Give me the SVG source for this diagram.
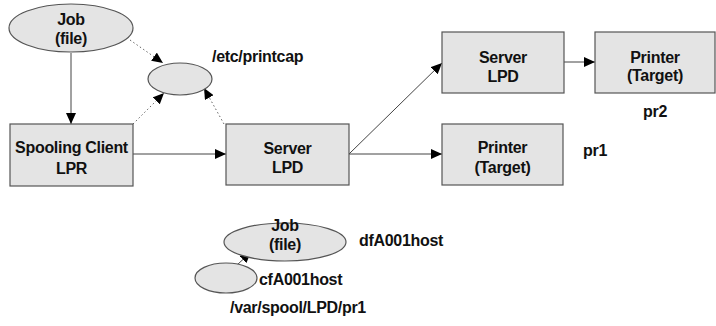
<svg xmlns="http://www.w3.org/2000/svg" width="716" height="326" viewBox="0 0 716 326">
<style>
.box{fill:#e4e4e4;stroke:#555;stroke-width:1.2}
.t{font-family:"Liberation Sans",Arial,sans-serif;font-size:16px;font-weight:bold;fill:#111;text-anchor:middle;letter-spacing:-0.3px}
.l{font-family:"Liberation Sans",Arial,sans-serif;font-size:16px;font-weight:bold;fill:#111;letter-spacing:-0.3px}
.c{fill:none;stroke:#444;stroke-width:1}
.d{fill:none;stroke:#666;stroke-width:1;stroke-dasharray:1.5 2.5}
</style>
<defs>
<marker id="a" markerUnits="userSpaceOnUse" markerWidth="12" markerHeight="10" refX="11" refY="5" orient="auto">
<path d="M0,0 L11,5 L0,10 Z" fill="#000"/>
</marker>
</defs>
<rect width="716" height="326" fill="#fff"/>
<g id="connectors">
<line class="c" x1="71" y1="53" x2="71" y2="124" marker-end="url(#a)"/>
<line class="d" x1="130" y1="40" x2="163" y2="63" marker-end="url(#a)"/>
<line class="d" x1="133" y1="124" x2="164" y2="93" marker-end="url(#a)"/>
<line class="d" x1="224" y1="124" x2="204" y2="88" marker-end="url(#a)"/>
<line class="c" x1="133" y1="154" x2="226" y2="154" marker-end="url(#a)"/>
<line class="c" x1="349" y1="154" x2="442" y2="154" marker-end="url(#a)"/>
<line class="c" x1="349" y1="154" x2="442" y2="63" marker-end="url(#a)"/>
<line class="c" x1="564" y1="62" x2="595" y2="62" marker-end="url(#a)"/>
<line class="c" x1="237" y1="265" x2="251" y2="252" marker-end="url(#a)"/>
</g>
<g id="job">
<ellipse class="box" cx="71" cy="28" rx="62" ry="24"/>
<text class="t" x="71" y="25">Job</text>
<text class="t" x="71" y="44">(file)</text>
</g>
<g id="printcap">
<ellipse class="box" cx="180" cy="79" rx="32" ry="16"/>
<text class="l" x="212" y="62">/etc/printcap</text>
</g>
<g id="client">
<rect class="box" x="10" y="124" width="123" height="62"/>
<text class="t" x="71.5" y="153">Spooling Client</text>
<text class="t" x="71.5" y="174">LPR</text>
</g>
<g id="server1">
<rect class="box" x="226" y="124" width="123" height="61"/>
<text class="t" x="287.5" y="154">Server</text>
<text class="t" x="287.5" y="173">LPD</text>
</g>
<g id="server2">
<rect class="box" x="442" y="32" width="122" height="61"/>
<text class="t" x="503" y="63">Server</text>
<text class="t" x="503" y="82">LPD</text>
</g>
<g id="printer2">
<rect class="box" x="595" y="32" width="120" height="61"/>
<text class="t" x="655" y="63">Printer</text>
<text class="t" x="655" y="81">(Target)</text>
<text class="t" x="655" y="117">pr2</text>
</g>
<g id="printer1">
<rect class="box" x="442" y="124" width="121" height="61"/>
<text class="t" x="502.5" y="153">Printer</text>
<text class="t" x="502.5" y="173">(Target)</text>
<text class="l" x="583" y="156">pr1</text>
</g>
<g id="jobfile">
<ellipse class="box" cx="285" cy="242" rx="61" ry="19"/>
<text class="t" x="285" y="231">Job</text>
<text class="t" x="285" y="250">(file)</text>
<text class="l" x="359" y="246">dfA001host</text>
</g>
<g id="cfile">
<ellipse class="box" cx="226" cy="278" rx="31" ry="15"/>
<text class="l" x="259" y="285">cfA001host</text>
</g>
<g id="spooldir">
<text class="l" x="230" y="313">/var/spool/LPD/pr1</text>
</g>
</svg>
